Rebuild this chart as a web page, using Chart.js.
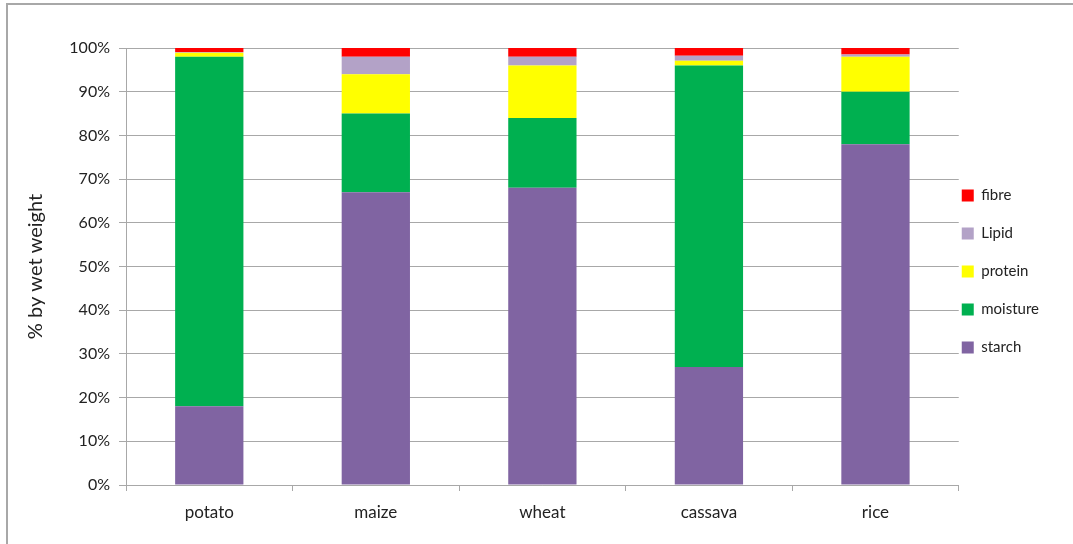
<!DOCTYPE html>
<html>
<head>
<meta charset="utf-8">
<script src="https://cdn.jsdelivr.net/npm/chart.js@4"></script>
<style>
  html, body { margin: 0; padding: 0; background: #fff; }
  #wrap { position: relative; width: 1073px; height: 544px; overflow: hidden; }
  #frame { position: absolute; left: 6px; top: 3px; width: 1200px; height: 700px; border: 2px solid #a8a8a8; }
  #c { position: absolute; left: 0; top: 0; }
</style>
</head>
<body>
<div id="wrap">
  <div id="frame"></div>
  <canvas id="c" width="1073" height="544"></canvas>
</div>
<script>
// crops and composition, % by wet weight
const crops = ['potato', 'maize', 'wheat', 'cassava', 'rice'];
const starch   = [18, 67, 68, 27, 78];
const moisture = [80, 18, 16, 69, 12];
const protein  = [0.9, 9, 12, 1.1, 8];
const lipid    = [0.2, 4, 2, 1.1, 0.5];
const fibre    = [0.9, 2, 2, 1.8, 1.5];
const yTicks   = [0, 10, 20, 30, 40, 50, 60, 70, 80, 90, 100];

const font = 'Lato, "Open Sans", sans-serif';
const gridGrey = '#a8a8a8';

// legend rows are spaced with a big padding, so pull the legend back left
// (and up a bit) to keep the swatches next to the plot like the original
const legendShift = {
    id: 'legendShift',
    afterLayout(chart) {
        const lg = chart.legend;
        lg.left -= 20;
        lg.right -= 20;
        lg.top -= 15;
        lg.bottom -= 15;
    }
};

const ctx = document.getElementById('c');

new Chart(ctx, {
    type: 'bar',
    data: {
        labels: crops,
        datasets: [
            { label: 'starch', data: starch, backgroundColor: '#8064A2' },
            { label: 'moisture', data: moisture, backgroundColor: '#00B050' },
            { label: 'protein', data: protein, backgroundColor: '#FFFF00' },
            { label: 'Lipid', data: lipid, backgroundColor: '#B3A2C7' },
            { label: 'fibre', data: fibre, backgroundColor: '#FF0000' }
        ]
    },
    plugins: [legendShift],
    options: {
        responsive: false,
        animation: false,
        datasets: {
            bar: { barPercentage: 0.41, categoryPercentage: 1, borderWidth: 0 }
        },
        layout: { padding: { left: 22, top: 48, bottom: 19, right: 4 } },
        plugins: {
            tooltip: { enabled: false },
            legend: {
                position: 'right',
                reverse: true,
                labels: {
                    boxWidth: 12,
                    boxHeight: 12,
                    padding: 23,
                    color: '#222',
                    font: { family: font, size: 15 }
                }
            }
        },
        scales: {
            x: {
                stacked: true,
                grid: { drawOnChartArea: false, drawTicks: true, tickLength: 6, color: gridGrey },
                border: { color: gridGrey },
                ticks: { color: '#222', padding: 11, font: { family: font, size: 17 } },
                afterFit: s => { s.height = 40; }
            },
            y: {
                stacked: true,
                min: 0,
                max: 100,
                afterBuildTicks: s => { s.ticks = yTicks.map(v => ({ value: v })); },
                grid: { color: gridGrey, tickLength: 7 },
                border: { color: gridGrey },
                ticks: {
                    color: '#222',
                    padding: 9,
                    font: { family: font, size: 16 },
                    callback: v => v + '%'
                },
                title: {
                    display: true,
                    text: '% by wet weight',
                    color: '#222',
                    padding: { top: 2, bottom: 0 },
                    font: { family: font, size: 20 }
                },
                afterFit: s => { s.width = 104; }
            }
        }
    }
});
</script>
</body>
</html>
